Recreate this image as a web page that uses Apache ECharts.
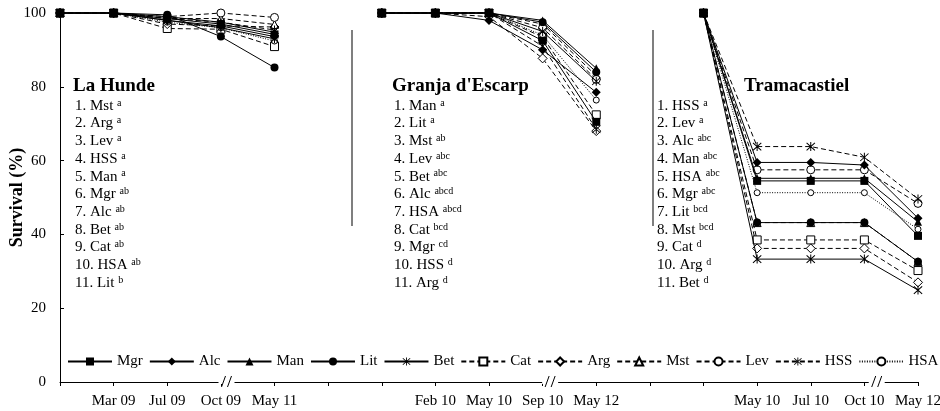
<!DOCTYPE html>
<html><head><meta charset="utf-8">
<script src="https://cdn.jsdelivr.net/npm/echarts@6/dist/echarts.min.js"></script>
<style>html,body{margin:0;padding:0;background:#fff}#c{width:940px;height:411px}</style>
</head><body><div id="c"></div>
<script>
// ---- data ----
const tickLabels = ['', 'Mar 09', 'Jul 09', 'Oct 09', 'May 11', '', '', 'Feb 10', 'May 10', 'Sep 10', 'May 12', '', '', 'May 10', 'Jul 10', 'Oct 10', 'May 12'];
const seriesNames = ['Mgr', 'Alc', 'Man', 'Lit', 'Bet', 'Cat', 'Arg', 'Mst', 'Lev', 'HSS', 'HSA'];
// La Hunde (0-4) | gap | Granja d'Escarp (6-10) | gap | Tramacastiel (12-16)
const mgr = [100, 100, 98.5, 97, 94.2, null, 100, 100, 100, 92.5, 70.5, null, 100, 54.5, 54.5, 54.5, 39.6];
const alc = [100, 100, 98, 96.5, 93.6, null, 100, 100, 98, 90, 78.5, null, 100, 59.5, 59.5, 58.8, 44.4];
const man = [100, 100, 99, 97.5, 94.8, null, 100, 100, 100, 98, 85, null, 100, 55.2, 55.2, 55.2, 43.4];
const lit = [100, 100, 99.5, 93.6, 85.2, null, 100, 100, 100, 97.5, 84, null, 100, 43.2, 43.2, 43.2, 32.6];
const bet = [100, 100, 98, 96, 93.0, null, 100, 100, 100, 95, 81.5, null, 100, 33.3, 33.3, 33.3, 24.9];
const cat = [100, 100, 95.8, 95.6, 90.9, null, 100, 100, 100, 93.5, 72.4, null, 100, 38.5, 38.5, 38.5, 30.2];
const arg = [100, 100, 97, 96.5, 96.2, null, 100, 100, 99, 87.7, 68, null, 100, 36.2, 36.2, 36.2, 27.0];
const mst = [100, 100, 98.5, 98.5, 96.9, null, 100, 100, 100, 97, 83, null, 100, 43.2, 43.2, 43.2, 32.6];
const lev = [100, 100, 99, 100, 98.8, null, 100, 100, 100, 96, 82, null, 100, 57.5, 57.5, 57.5, 48.4];
const hss = [100, 100, 98.5, 97.5, 95.4, null, 100, 100, 100, 91, 68.5, null, 100, 63.8, 63.8, 60.9, 49.6];
const hsa = [100, 100, 97.5, 96, 92.4, null, 100, 100, 100, 94, 76.4, null, 100, 51.3, 51.3, 51.3, 41.4];
const seriesValues = [mgr, alc, man, lit, bet, cat, arg, mst, lev, hss, hsa];

const siteTitles = ['La Hunde', "Granja d'Escarp", 'Tramacastiel'];
const laHundeRank = [['1. Mst', 'a'], ['2. Arg', 'a'], ['3. Lev', 'a'], ['4. HSS', 'a'], ['5. Man', 'a'], ['6. Mgr', 'ab'], ['7. Alc', 'ab'], ['8. Bet', 'ab'], ['9. Cat', 'ab'], ['10. HSA', 'ab'], ['11. Lit', 'b']];
const granjaRank = [['1. Man', 'a'], ['2. Lit', 'a'], ['3. Mst', 'ab'], ['4. Lev', 'abc'], ['5. Bet', 'abc'], ['6. Alc', 'abcd'], ['7. HSA', 'abcd'], ['8. Cat', 'bcd'], ['9. Mgr', 'cd'], ['10. HSS', 'd'], ['11. Arg', 'd']];
const tramaRank = [['1. HSS', 'a'], ['2. Lev', 'a'], ['3. Alc', 'abc'], ['4. Man', 'abc'], ['5. HSA', 'abc'], ['6. Mgr', 'abc'], ['7. Lit', 'bcd'], ['8. Mst', 'bcd'], ['9. Cat', 'd'], ['10. Arg', 'd'], ['11. Bet', 'd']];
const siteRanks = [laHundeRank, granjaRank, tramaRank];
const axisBreaks = [3.105, 9.14, 15.23];

// ---- styles ----
const FONT = '"Liberation Serif", "Times New Roman", serif';
const ASTER = 'path://M4.5,0L5.5,0L5.5,10L4.5,10Z M1.2,0.5L9.5,8.8L8.8,9.5L0.5,1.2Z M8.8,0.5L9.5,1.2L1.2,9.5L0.5,8.8Z';
const DASH = [5, 3];
const styles = {
  Mgr: { symbol: 'rect', size: 8, filled: true, line: 'solid' },
  Alc: { symbol: 'diamond', size: 9, filled: true, line: 'solid' },
  Man: { symbol: 'triangle', size: 8, filled: true, line: 'solid' },
  Lit: { symbol: 'circle', size: 8, filled: true, line: 'solid' },
  Bet: { symbol: ASTER, size: 9, filled: true, line: 'solid' },
  Cat: { symbol: 'rect', size: 8, filled: false, line: DASH },
  Arg: { symbol: 'diamond', size: 9, filled: false, line: DASH },
  Mst: { symbol: 'triangle', size: 8, filled: false, line: DASH },
  Lev: { symbol: 'circle', size: 8, filled: false, line: DASH },
  HSS: { symbol: ASTER, size: 9, filled: true, line: DASH },
  HSA: { symbol: 'circle', size: 6, filled: false, line: [1, 1.5] }
};

const series = seriesNames.map((name, k) => {
  const st = styles[name];
  return {
    name, type: 'line', z: st.line === 'solid' ? 4 : 3,
    data: seriesValues[k].map((v, i) => [i, v == null ? '-' : v]),
    connectNulls: false,
    symbol: st.symbol, symbolSize: st.size, showSymbol: true, clip: false,
    lineStyle: { color: '#000', width: 1, type: st.line },
    itemStyle: st.filled ? { color: '#000', borderColor: '#000', borderWidth: 0 } : { color: '#fff', borderColor: '#000', borderWidth: 1 },
    emphasis: { disabled: true },
    animation: false
  };
});

const chart = echarts.init(document.getElementById('c'), null, { renderer: 'canvas' });
const option = {
  animation: false,
  backgroundColor: '#fff',
  grid: { left: 60, right: 22, top: 13, bottom: 29, containLabel: false, outerBoundsMode: 'none' },
  legend: {
    data: seriesNames, left: 67, top: 354, width: 880, padding: 0, itemWidth: 44, itemHeight: 10, itemGap: 6,
    textStyle: { fontFamily: FONT, fontSize: 15, color: '#000' }, selectedMode: false
  },
  xAxis: {
    type: 'value', min: 0, max: 16, interval: 1,
    axisLine: { show: true, lineStyle: { color: '#000', width: 1 } },
    axisTick: { show: true, inside: false, length: 4, lineStyle: { color: '#000' } },
    axisLabel: { fontFamily: FONT, fontSize: 15, color: '#000', margin: 12, formatter: v => tickLabels[v] || '' },
    splitLine: { show: false }
  },
  yAxis: {
    type: 'value', min: 0, max: 100, interval: 20,
    name: 'Survival (%)', nameLocation: 'middle', nameRotate: 90, nameGap: 34, nameMoveOverlap: false,
    nameTextStyle: { fontFamily: FONT, fontSize: 18, fontWeight: 'bold', color: '#000' },
    axisLine: { show: true, lineStyle: { color: '#000', width: 1 } },
    axisTick: { show: true, inside: true, length: 4, lineStyle: { color: '#000' } },
    axisLabel: { fontFamily: FONT, fontSize: 15, color: '#000', margin: 14 },
    splitLine: { show: false }
  },
  series
};
chart.setOption(option);

// ---- annotations ----
const titlePos = [[73, 86], [392, 86], [744, 86]];
const listPos = [[75, 97], [394, 97], [657, 97]];
const sepX = [352, 653];
const graphics = [];
sepX.forEach(x => graphics.push({ type: 'line', z: 5, shape: { x1: x, y1: 30, x2: x, y2: 226 }, style: { stroke: '#555', lineWidth: 1.5 } }));
siteTitles.forEach((t, i) => {
  graphics.push({ type: 'text', z: 5, x: titlePos[i][0], y: titlePos[i][1],
    style: { text: t, fontFamily: FONT, fontSize: 19, fontWeight: 'bold', fill: '#000', verticalAlign: 'middle' } });
  const txt = siteRanks[i].map(r => '{n|' + r[0] + ' }{s|' + r[1] + '}').join('\n');
  graphics.push({ type: 'text', z: 5, x: listPos[i][0], y: listPos[i][1],
    style: { text: txt, fill: '#000', verticalAlign: 'top',
      rich: { n: { fontFamily: FONT, fontSize: 15, lineHeight: 17.7, fill: '#000' },
              s: { fontFamily: FONT, fontSize: 10, verticalAlign: 'top', fill: '#000', padding: [1, 0, 0, 0] } } } });
});
axisBreaks.forEach(b => {
  const p = chart.convertToPixel({ gridIndex: 0 }, [b, 0]);
  const px = p[0], py = p[1];
  graphics.push({ type: 'rect', z: 10, shape: { x: px - 8, y: py - 2, width: 16, height: 4 }, style: { fill: '#fff' } });
  graphics.push({ type: 'line', z: 11, shape: { x1: px - 5, y1: py + 5, x2: px - 1, y2: py - 6 }, style: { stroke: '#000', lineWidth: 1 } });
  graphics.push({ type: 'line', z: 11, shape: { x1: px + 1, y1: py + 5, x2: px + 5, y2: py - 6 }, style: { stroke: '#000', lineWidth: 1 } });
});
chart.setOption({ graphic: graphics });
</script></body></html>
